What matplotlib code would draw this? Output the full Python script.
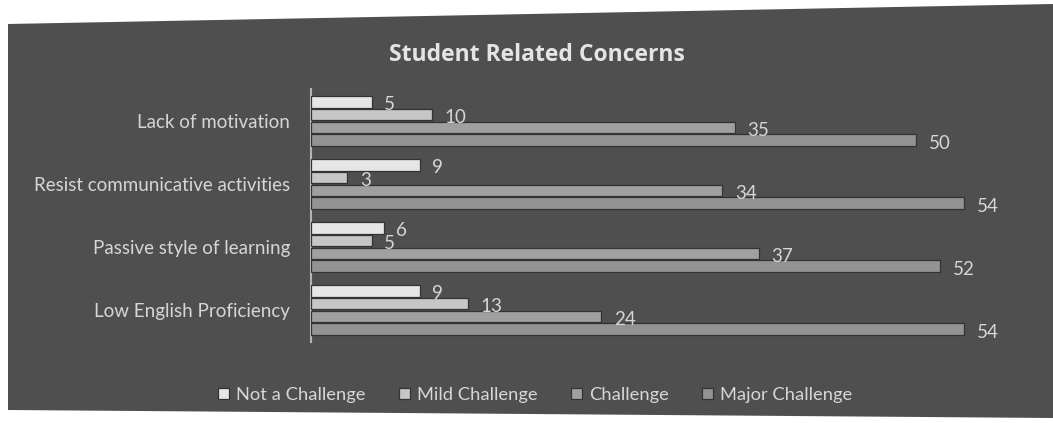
import matplotlib
matplotlib.use("Agg")
import matplotlib.pyplot as plt
from matplotlib.patches import Polygon
import numpy as np

plt.rcParams['font.family'] = ['Lato', 'DejaVu Sans']

categories = ["Lack of motivation", "Resist communicative activities",
              "Passive style of learning", "Low English Proficiency"]
series = ["Not a Challenge", "Mild Challenge", "Challenge", "Major Challenge"]
not_a_challenge = [5, 9, 6, 9]
mild_challenge = [10, 3, 5, 13]
challenge = [35, 34, 37, 24]
major_challenge = [50, 54, 52, 54]
values = [not_a_challenge, mild_challenge, challenge, major_challenge]
colors = ["#e6e6e6", "#c6c6c6", "#a0a0a0", "#939393"]

W, H = 1053, 423
fig = plt.figure(figsize=(W / 100, H / 100), dpi=100)
fig.patch.set_facecolor("white")

# dark scanned chart area
bg = Polygon([(8 / W, 1 - 24 / H), (1.0, 1 - 4 / H), (1.0, 1 - 418 / H), (8 / W, 1 - 410 / H)],
             closed=True, transform=fig.transFigure, facecolor="#4f4f4f",
             edgecolor="none", zorder=-5)
fig.patches.append(bg)

ax = fig.add_axes([311 / W, 1 - 341.5 / H, 726 / W, 252 / H])
ax.set_facecolor("none")
ax.set_zorder(2)

y = np.arange(len(categories))
step = 0.206
h = 0.19
for i, (name, vals, c) in enumerate(zip(series, values, colors)):
    pos = y + (i - 1.5) * step
    ax.barh(pos, vals, height=h, color=c, edgecolor="#333333",
            linewidth=0.9, label=name, zorder=3)
    for p, v in zip(pos, vals):
        ax.annotate(str(v), xy=(v, p), xytext=(9, -2), textcoords="offset points",
                    va="center", ha="left", color="#d6d6d6", fontsize=13.5,
                    zorder=6)

ax.set_xlim(0, 60)
ax.set_ylim(len(categories) - 0.5, -0.5)
ax.set_yticks(y)
ax.set_yticklabels(categories)
ax.tick_params(axis="y", length=0, pad=15, labelsize=13.5, labelcolor="#d6d6d6")
ax.set_xticks([])
for s in ["top", "right", "bottom"]:
    ax.spines[s].set_visible(False)
ax.spines["left"].set_color("#b4b4b4")
ax.spines["left"].set_linewidth(1.5)

fig.text(537 / W, 1 - 55 / H, "Student Related Concerns", ha="center", va="center",
         fontsize=16.5, fontweight="bold", color="#e4e4e4",
         family=["Open Sans", "DejaVu Sans"])

leg = fig.legend(loc="center", bbox_to_anchor=(535 / W, 1 - 395 / H), ncol=4,
                 frameon=False, handlelength=0.6, handleheight=0.6,
                 handletextpad=0.4, columnspacing=1.8, fontsize=13.2)
for t in leg.get_texts():
    t.set_color("#d6d6d6")

fig.savefig("out.png", dpi=100)
